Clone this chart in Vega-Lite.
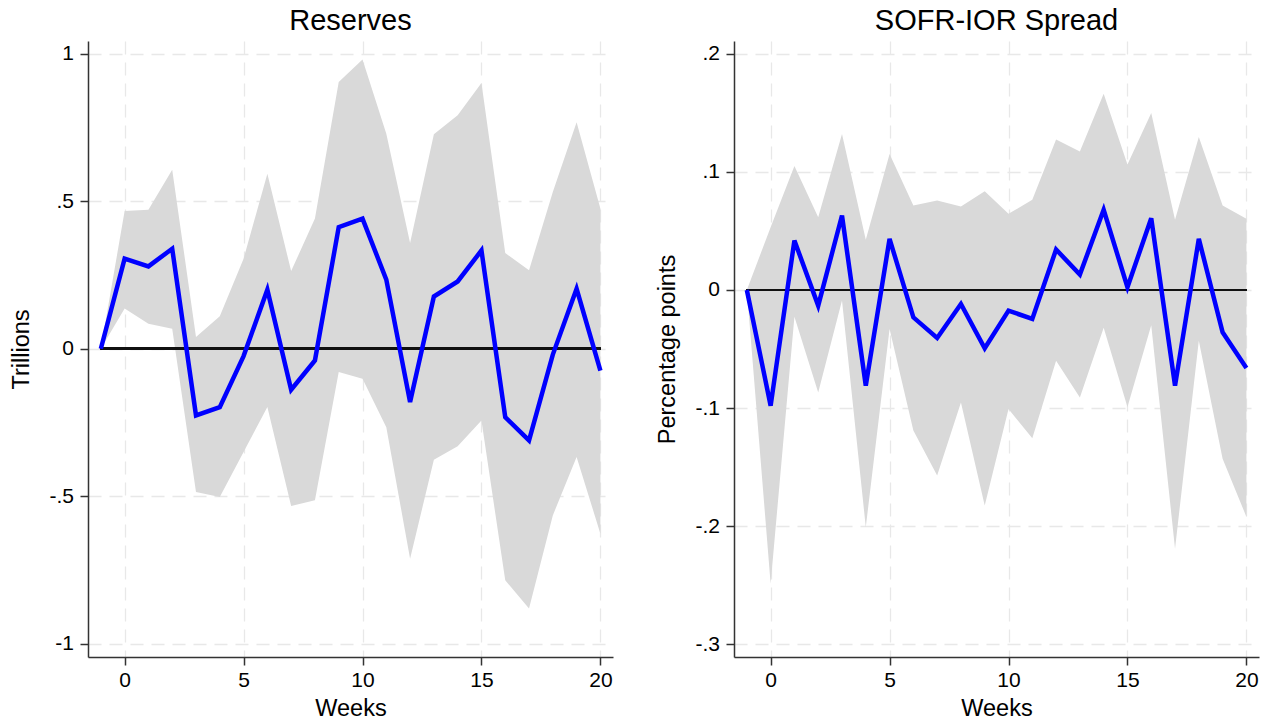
{
  "$schema": "https://vega.github.io/schema/vega-lite/v6.json",
  "background": "white",
  "padding": {"left": 9, "top": 7, "right": 5, "bottom": 5},
  "spacing": 42,
  "config": {
    "font": "Liberation Sans",
    "view": {"stroke": null},
    "title": {"fontSize": 29, "fontWeight": "normal", "color": "#000000", "offset": 5},
    "axis": {
      "domainColor": "#333333",
      "domainWidth": 1.5,
      "tickColor": "#333333",
      "tickWidth": 1.5,
      "tickSize": 8,
      "labelFontSize": 21,
      "labelColor": "#000000",
      "titleFontSize": 23.5,
      "titleFontWeight": "normal",
      "titleColor": "#000000",
      "grid": true,
      "gridColor": "#e8e8e8",
      "gridWidth": 1.3,
      "gridDash": [13, 8]
    },
    "axisX": {"labelPadding": 4, "titlePadding": 6},
    "axisY": {"labelPadding": 6.5, "titlePadding": 15}
  },
  "data": {
    "values": [
      {"p": "R", "w": -1, "irf": 0, "lo": 0, "hi": 0},
      {"p": "R", "w": 0, "irf": 0.305, "lo": 0.136, "hi": 0.467},
      {"p": "R", "w": 1, "irf": 0.279, "lo": 0.085, "hi": 0.471},
      {"p": "R", "w": 2, "irf": 0.339, "lo": 0.068, "hi": 0.607},
      {"p": "R", "w": 3, "irf": -0.226, "lo": -0.486, "hi": 0.04},
      {"p": "R", "w": 4, "irf": -0.198, "lo": -0.503, "hi": 0.11},
      {"p": "R", "w": 5, "irf": -0.025, "lo": -0.35, "hi": 0.305},
      {"p": "R", "w": 6, "irf": 0.2, "lo": -0.198, "hi": 0.593},
      {"p": "R", "w": 7, "irf": -0.139, "lo": -0.533, "hi": 0.263},
      {"p": "R", "w": 8, "irf": -0.04, "lo": -0.514, "hi": 0.441},
      {"p": "R", "w": 9, "irf": 0.412, "lo": -0.079, "hi": 0.904},
      {"p": "R", "w": 10, "irf": 0.441, "lo": -0.102, "hi": 0.98},
      {"p": "R", "w": 11, "irf": 0.234, "lo": -0.266, "hi": 0.729},
      {"p": "R", "w": 12, "irf": -0.181, "lo": -0.712, "hi": 0.358},
      {"p": "R", "w": 13, "irf": 0.177, "lo": -0.376, "hi": 0.727},
      {"p": "R", "w": 14, "irf": 0.228, "lo": -0.331, "hi": 0.791},
      {"p": "R", "w": 15, "irf": 0.333, "lo": -0.243, "hi": 0.901},
      {"p": "R", "w": 16, "irf": -0.232, "lo": -0.785, "hi": 0.324},
      {"p": "R", "w": 17, "irf": -0.311, "lo": -0.881, "hi": 0.266},
      {"p": "R", "w": 18, "irf": -0.02, "lo": -0.565, "hi": 0.531},
      {"p": "R", "w": 19, "irf": 0.203, "lo": -0.367, "hi": 0.768},
      {"p": "R", "w": 20, "irf": -0.074, "lo": -0.627, "hi": 0.475},
      {"p": "S", "w": -1, "irf": 0, "lo": 0, "hi": 0},
      {"p": "S", "w": 0, "irf": -0.098, "lo": -0.2487, "hi": 0.053},
      {"p": "S", "w": 1, "irf": 0.0418, "lo": -0.0226, "hi": 0.1048},
      {"p": "S", "w": 2, "irf": -0.0133, "lo": -0.0868, "hi": 0.0616},
      {"p": "S", "w": 3, "irf": 0.063, "lo": -0.009, "hi": 0.132},
      {"p": "S", "w": 4, "irf": -0.081, "lo": -0.2008, "hi": 0.0424},
      {"p": "S", "w": 5, "irf": 0.0432, "lo": -0.033, "hi": 0.115},
      {"p": "S", "w": 6, "irf": -0.0232, "lo": -0.119, "hi": 0.0715},
      {"p": "S", "w": 7, "irf": -0.0407, "lo": -0.157, "hi": 0.0757},
      {"p": "S", "w": 8, "irf": -0.0119, "lo": -0.0952, "hi": 0.0706},
      {"p": "S", "w": 9, "irf": -0.0494, "lo": -0.1825, "hi": 0.0836},
      {"p": "S", "w": 10, "irf": -0.0175, "lo": -0.1008, "hi": 0.0644},
      {"p": "S", "w": 11, "irf": -0.0246, "lo": -0.1256, "hi": 0.0763},
      {"p": "S", "w": 12, "irf": 0.0342, "lo": -0.06, "hi": 0.1274},
      {"p": "S", "w": 13, "irf": 0.013, "lo": -0.091, "hi": 0.1172},
      {"p": "S", "w": 14, "irf": 0.0678, "lo": -0.032, "hi": 0.166},
      {"p": "S", "w": 15, "irf": 0.0023, "lo": -0.099, "hi": 0.1062},
      {"p": "S", "w": 16, "irf": 0.0607, "lo": -0.03, "hi": 0.1497},
      {"p": "S", "w": 17, "irf": -0.081, "lo": -0.219, "hi": 0.0593},
      {"p": "S", "w": 18, "irf": 0.0432, "lo": -0.043, "hi": 0.1294},
      {"p": "S", "w": 19, "irf": -0.0359, "lo": -0.143, "hi": 0.0715},
      {"p": "S", "w": 20, "irf": -0.066, "lo": -0.192, "hi": 0.0602}
    ]
  },
  "hconcat": [
    {
      "title": "Reserves",
      "width": 525,
      "height": 616,
      "transform": [{"filter": "datum.p == 'R'"}],
      "encoding": {
        "x": {
          "field": "w", "type": "quantitative",
          "scale": {"domain": [-1.54, 20.53], "nice": false, "zero": false},
          "axis": {"title": "Weeks", "values": [0, 5, 10, 15, 20]}
        }
      },
      "layer": [
        {
          "mark": {"type": "area", "color": "#d9d9d9", "opacity": 1},
          "encoding": {
            "y": {
              "field": "lo", "type": "quantitative",
              "scale": {"domain": [-1.045, 1.043], "nice": false, "zero": false},
              "axis": {
                "title": "Trillions",
                "values": [-1, -0.5, 0, 0.5, 1],
                "labelExpr": "datum.value == 0 ? '0' : (datum.value < 0 ? '-' : '') + (abs(datum.value) < 1 ? substring(toString(abs(datum.value)), 1) : toString(abs(datum.value)))"
              }
            },
            "y2": {"field": "hi"}
          }
        },
        {
          "mark": {"type": "rule", "color": "#111111", "strokeWidth": 2},
          "encoding": {
            "x": {"datum": -1, "type": "quantitative"},
            "x2": {"datum": 20},
            "y": {"datum": 0, "type": "quantitative"}
          }
        },
        {
          "mark": {"type": "line", "color": "#0000ff", "strokeWidth": 4.5},
          "encoding": {
            "y": {"field": "irf", "type": "quantitative"}
          }
        }
      ]
    },
    {
      "title": "SOFR-IOR Spread",
      "width": 525,
      "height": 616,
      "transform": [{"filter": "datum.p == 'S'"}],
      "encoding": {
        "x": {
          "field": "w", "type": "quantitative",
          "scale": {"domain": [-1.54, 20.53], "nice": false, "zero": false},
          "axis": {"title": "Weeks", "values": [0, 5, 10, 15, 20]}
        }
      },
      "layer": [
        {
          "mark": {"type": "area", "color": "#d9d9d9", "opacity": 1},
          "encoding": {
            "y": {
              "field": "lo", "type": "quantitative",
              "scale": {"domain": [-0.3107, 0.2107], "nice": false, "zero": false},
              "axis": {
                "title": "Percentage points",
                "values": [-0.3, -0.2, -0.1, 0, 0.1, 0.2],
                "labelExpr": "datum.value == 0 ? '0' : (datum.value < 0 ? '-' : '') + (abs(datum.value) < 1 ? substring(toString(abs(datum.value)), 1) : toString(abs(datum.value)))"
              }
            },
            "y2": {"field": "hi"}
          }
        },
        {
          "mark": {"type": "rule", "color": "#111111", "strokeWidth": 2},
          "encoding": {
            "x": {"datum": -1, "type": "quantitative"},
            "x2": {"datum": 20},
            "y": {"datum": 0, "type": "quantitative"}
          }
        },
        {
          "mark": {"type": "line", "color": "#0000ff", "strokeWidth": 4.5},
          "encoding": {
            "y": {"field": "irf", "type": "quantitative"}
          }
        }
      ]
    }
  ]
}
